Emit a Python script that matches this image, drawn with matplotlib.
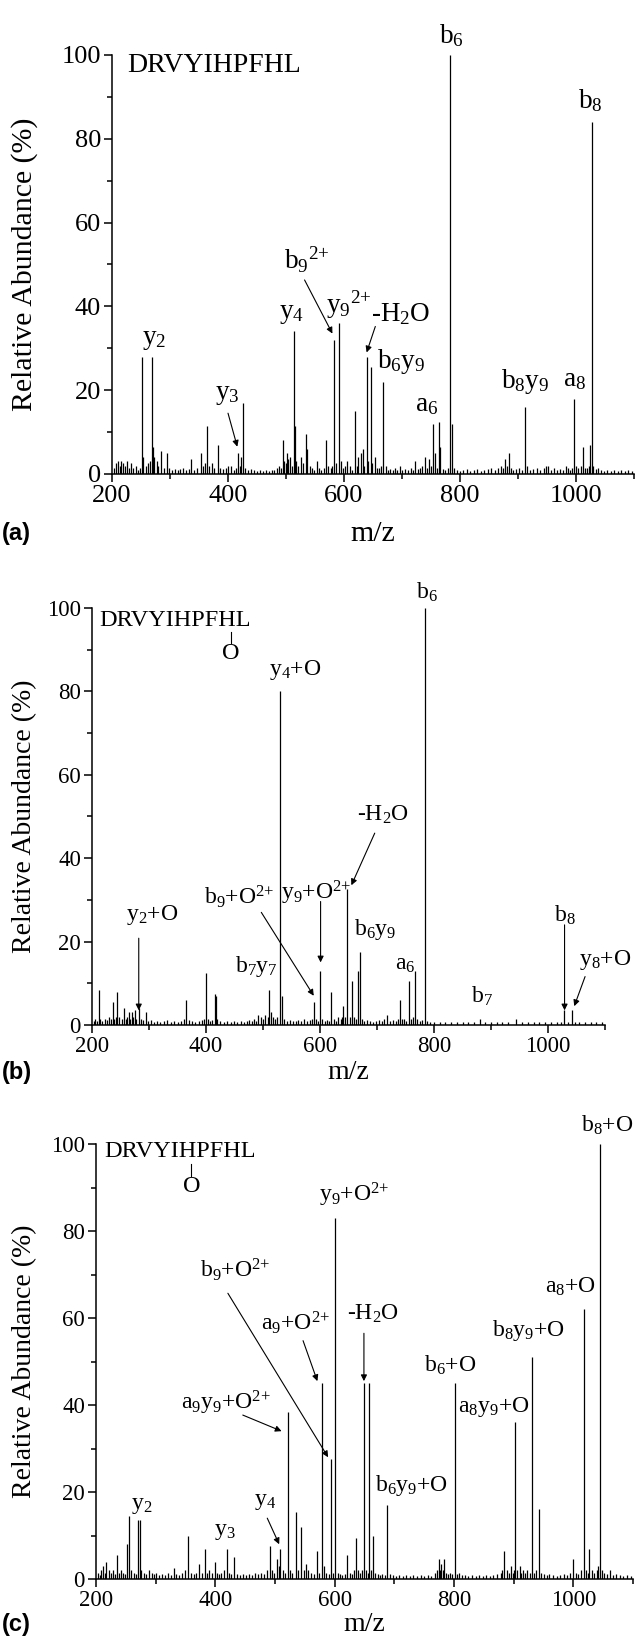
import numpy as np
import matplotlib.pyplot as plt
from matplotlib.ticker import MultipleLocator

plt.rcParams['font.family'] = ['Liberation Serif', 'DejaVu Serif']
plt.rcParams['mathtext.default'] = 'regular'

# ---- panel (a): DRVYIHPFHL
mz_a = [204, 207, 210, 213, 216, 219, 222, 226, 229, 233, 237, 241, 245, 248,
        251.6, 254, 258, 262, 266, 269.7, 271, 273, 277, 280, 285, 289, 294, 298,
        303, 308, 313, 318, 323, 328, 333, 337, 342, 347, 353, 357, 361, 364, 367,
        372, 376, 383, 387, 391, 396, 400, 405, 410, 414, 417.5, 420, 423, 426.5,
        430, 435, 440, 445, 450, 455, 460, 465, 470, 475, 480, 484, 488, 491,
        494, 497, 500, 502.5, 504, 506.7, 510, 513, 515, 518, 521, 525.5, 529, 534,
        537, 541, 545, 549, 553, 557, 561, 565, 569, 573, 577, 580, 583, 587, 591.7,
        595, 599, 602, 605.7, 610, 614, 619.6, 622, 625, 628.7, 632, 635, 639, 642,
        646, 649, 653, 657, 661, 664, 668, 672, 676, 680, 684, 688, 692, 696, 700,
        705, 710, 715, 719, 722, 727, 731, 735, 739.5, 743, 747, 750, 754, 757,
        761, 763, 766, 770, 775, 779, 783.4, 786, 790, 795, 800, 806, 812, 818,
        824, 830, 836, 842, 848, 854, 860, 866, 870, 874, 877.5, 881, 884.5, 888,
        892, 897, 902, 907, 912, 916, 920, 926, 932, 938, 944, 948, 952, 957, 962,
        967, 972, 977, 982, 986, 990, 993, 996, 1000, 1004, 1008, 1012, 1015,
        1019, 1022, 1025, 1027, 1030, 1034, 1038, 1043, 1048, 1054, 1060, 1066,
        1072, 1078, 1084, 1090, 1096]
int_a = [1.5, 2.5, 3, 2, 3.2, 2.5, 2, 3, 1.5, 2.5, 1.5, 2, 1, 1.5,
         28, 4, 2, 2.5, 3, 28, 6.5, 4, 3, 2, 5.5, 1.5, 5, 1.5,
         1, 1.2, 1, 1.2, 1.5, 1, 1.2, 3.5, 1, 1.5, 5, 2, 2.5, 11.5, 2,
         2.5, 1.5, 7, 1.5, 1.2, 1.5, 2, 1.8, 1, 1.5, 5, 2, 4, 17,
         1.5, 1, 1.2, 1, 0.8, 1, 0.8, 1, 0.8, 1, 1, 1.5, 2, 1.5,
         8, 3, 2.5, 5, 3.5, 4, 2, 34, 11.5, 3, 2, 4, 2.5, 9.5,
         6, 2, 1.5, 1, 3, 1.5, 1, 1.5, 8, 2, 1.5, 2, 32, 2.5, 36,
         3, 1.5, 2, 3, 2, 1, 15, 2, 4, 5, 6, 2, 28, 3,
         25.5, 2.5, 4, 1.5, 1.5, 2, 22, 2, 1, 1.2, 1, 1.5, 1, 2, 1,
         1.2, 1, 1.5, 1, 3, 1.2, 1.5, 2, 4, 1.5, 3.5, 2, 12, 5,
         1.5, 12.5, 6.5, 1.2, 1, 1.5, 100, 12, 1.5, 1, 0.8, 1, 1.2, 0.8,
         1, 1.2, 0.8, 1, 1.2, 1.5, 1, 1.5, 2, 1.5, 3.5, 2, 5, 1.5,
         1, 1.2, 1.5, 1, 16, 2, 1, 1.2, 1.5, 1, 1.5, 2, 2, 1, 1.5,
         1, 1.2, 1, 2, 1.5, 1, 1.5, 18, 2, 1.5, 2, 6.5, 1.5,
         1.5, 2, 7, 84, 2, 1.2, 1.5, 1, 0.8, 1, 0.8, 1,
         0.8, 1, 0.8, 1, 0.8]

# ---- panel (b): DRVYIHPFHL + O
mz_b = [203, 206, 209, 211.4, 214, 218, 222, 226, 230, 233, 236, 239, 242, 244.7,
        248, 252, 255.4, 259, 262, 264.6, 267, 269.6, 272, 275.3, 278, 282.4, 286,
        290, 294.5, 298, 303, 308, 314, 320, 326, 332, 338, 344, 350, 356, 361,
        365.5, 370, 375, 381, 387, 393, 396, 399.6, 403, 407, 411, 415, 417, 420,
        425, 431, 437, 443, 449, 455, 461, 467, 472, 476, 480, 484, 488, 492, 496,
        500, 504, 508, 511, 514, 517, 521, 525, 530, 533.8, 537, 542, 547, 552,
        557, 562, 567, 572, 577, 582, 586, 589, 593, 597, 600, 604, 608, 612, 616,
        619.7, 624, 628, 632, 636, 638, 641, 644, 648, 652, 656.7, 660, 663, 666.6,
        669.5, 673, 678, 683, 688, 693, 698, 703, 708, 713, 718, 723, 728, 733,
        736, 739.8, 743, 747, 751, 756, 760, 763, 766.8, 770, 775, 779, 784.5,
        788, 793, 800, 810, 820, 830, 840, 850, 860, 870, 880, 890, 900, 910, 920,
        930, 944, 955, 965, 975, 985, 995, 1005, 1015, 1022, 1028, 1035, 1042,
        1048, 1055, 1065, 1075, 1085, 1095]
int_b = [1, 1.5, 1, 8.5, 1.5, 1, 1.5, 1.2, 2, 1.5, 5.5, 1.5, 2, 8,
         2, 1.5, 4, 1.5, 2, 3, 1.5, 3, 2, 3.5, 1.5, 4, 1.5,
         1.2, 3, 1, 1.2, 0.8, 1, 0.8, 1, 1.2, 0.8, 1, 0.8, 1, 1.5,
         6, 1.2, 1, 0.8, 1, 1.2, 1.5, 12.5, 1.5, 1, 1.2, 7.5, 7, 1.5,
         1, 0.8, 1, 0.8, 1, 0.8, 1, 0.8, 1, 1.2, 1, 1.5, 1, 2.5, 2,
         1.5, 2.5, 2, 8.5, 3, 2, 1.5, 2, 80, 7, 1.5, 1, 1.2, 1,
         1, 1.2, 1, 1.5, 1, 1.2, 1.5, 5.5, 1.5, 1, 13, 1.5, 1, 1.2, 1,
         8, 1.5, 1, 2, 1.5, 2, 4.5, 2, 32.5, 2, 10.5, 2, 1.5, 13,
         17.5, 1.5, 1, 1.2, 1, 0.8, 1, 1.2, 1, 1.5, 2.5, 1, 1.2, 1,
         1.5, 6, 1.5, 1.5, 1, 10.5, 1.5, 2, 13, 1.5, 1, 1.2, 100,
         1, 0.8, 0.8, 0.6, 0.8, 0.6, 0.8, 0.6, 0.8, 0.6, 1.5, 0.6, 0.8, 0.6, 0.8,
         0.6, 1.5, 0.6, 0.8, 0.6, 0.8, 0.6, 0.8, 0.6, 0.8, 3.5, 0.8, 3.5,
         0.8, 0.6, 0.8, 0.6, 0.8, 0.6]

# ---- panel (c): DRVYIHPFHL + O
mz_c = [203, 206, 209, 212, 214.5, 217, 221, 225, 229, 232, 235, 238, 242, 246,
        249, 252, 256, 259, 263, 267, 270, 273, 276, 280, 284, 289, 293, 297, 301,
        306, 311, 316, 321, 326, 330, 334, 339, 344, 349, 355, 359, 364, 368, 372,
        377, 382, 386, 390, 395, 399, 402, 406, 410, 414, 419, 423, 427, 431,
        436, 441, 446, 451, 456, 461, 466, 471, 476, 481, 486, 491, 495, 499,
        503, 506, 509, 513, 517, 521, 525, 529, 535, 539, 544, 548, 552, 556, 561,
        566, 570, 574, 579, 582, 586, 590, 593, 597, 601, 605, 609, 613, 617, 621,
        625, 629, 632, 635, 639, 643, 646, 649, 652, 655, 658, 661, 665, 668, 672,
        676, 680, 684, 688, 692, 697, 702, 708, 714, 720, 726, 732, 738, 744, 750,
        756, 762, 768, 772, 775, 777, 779, 781, 784, 786, 790, 794, 797, 801, 805,
        809, 813, 818, 824, 830, 836, 842, 848, 854, 860, 866, 872, 878, 881, 884,
        888, 892, 895, 898, 901, 903, 906, 910, 913, 915, 919, 923, 927, 930, 934,
        938, 942, 946, 950, 955, 960, 966, 972, 978, 984, 990, 995, 1000, 1004,
        1008, 1012, 1017, 1021, 1024, 1027, 1031, 1035, 1039, 1042, 1044, 1048,
        1052, 1056, 1062, 1066, 1072, 1078, 1084, 1090, 1096]
int_c = [1.5, 1, 2, 3, 1.5, 4, 2, 1.5, 2, 1.2, 5.5, 1.5, 2, 1.5,
         1.2, 8, 14.5, 2, 1.5, 1.2, 13.5, 13.5, 2, 1.5, 1.2, 2, 1.5, 1.2, 1.5,
         1, 1.2, 1, 1.5, 1, 2.5, 1.2, 1, 1.5, 2, 10, 1.5, 1.2, 1.5, 3.5,
         1.5, 7, 1.5, 2, 1.5, 4, 1.5, 1.2, 1.5, 2, 7, 1.5, 1.2, 5,
         1.2, 1, 1.2, 1, 1.2, 1, 1.5, 1.2, 1.5, 1.2, 2, 7.5, 2, 1.5,
         4.5, 3, 7, 2, 1.5, 38.5, 2, 1.5, 15.5, 2, 12, 2, 3.5, 2, 1.5,
         1.2, 6.5, 1.5, 45, 3, 1.5, 1.2, 27.5, 1.5, 83, 1.5, 1.2, 1, 1.2, 5.5,
         1.5, 1.2, 2, 9.5, 2, 1.5, 2, 45, 2, 1.5, 45, 2, 10, 1.5, 1.2,
         1, 1.2, 1, 17, 1.2, 1, 0.8, 1, 0.8, 1, 0.8, 1, 0.8, 1, 0.8,
         1, 0.8, 1.5, 2, 4.5, 2, 3.5, 2, 4.5, 1.5, 1.2, 1.5, 1.2, 45, 1.2,
         1.5, 1, 1, 0.8, 1, 0.8, 1, 0.8, 1, 0.8, 1, 1.2, 1.5, 2, 6.5,
         2, 1.5, 3, 1.5, 2, 36, 2, 3, 1.5, 2, 1.5, 2, 1.5, 51, 1.5,
         2, 16, 1.5, 1.2, 1, 1.2, 1, 0.8, 1, 1.2, 1, 1.5, 4.5, 1.5,
         1.2, 2, 62, 2, 1.5, 7, 2, 1.5, 2, 3, 100, 2,
         1.5, 1.2, 2, 1, 1.2, 1, 0.8, 1, 0.8]

# ---- annotations: (text, m/z, abundance)
labels_a = [('b$_6$', 785, 104.5), ('b$_8$', 1025, 89), ('b$_9$$^{2{+}}$', 536, 51),
            ('y$_9$$^{2{+}}$', 608, 40.3), ('-H$_2$O', 697, 38.2), ('y$_4$', 509, 38.4),
            ('y$_2$', 273, 32), ('y$_3$', 398, 18.9), ('b$_6$y$_9$', 698, 26.8),
            ('a$_6$', 743, 16.5), ('b$_8$y$_9$', 912, 22), ('a$_8$', 997, 22.4)]
arrows_a = [(532, 46.3, 580, 33.5), (654, 35.2, 639, 29), (400, 14.5, 416, 6.5)]

labels_b = [('b$_6$', 788, 103.8), ('y$_4$+O', 557, 85), ('-H$_2$O', 710, 50.4),
            ('b$_9$+O$^{2{+}}$', 458, 30.8), ('y$_9$+O$^{2{+}}$', 593, 31.6),
            ('y$_2$+O', 306, 26.4), ('b$_7$y$_7$', 488, 14), ('b$_6$y$_9$', 697, 22.8),
            ('a$_6$', 749, 14.4), ('b$_7$', 884, 6.8), ('b$_8$', 1030, 26.4),
            ('y$_8$+O', 1100, 15.6)]
arrows_b = [(696, 46, 655, 33.5), (497, 27, 589, 7), (601, 29.6, 601, 15),
            (282, 20.8, 282, 3.5), (1029, 24, 1029, 3.5), (1065, 11.6, 1046, 4.5)]

labels_c = [('b$_8$+O', 1056, 104.4), ('y$_9$+O$^{2{+}}$', 633, 88.3),
            ('b$_9$+O$^{2{+}}$', 433, 71), ('a$_9$+O$^{2{+}}$', 535, 59), ('-H$_2$O', 664, 61),
            ('a$_8$+O', 995, 67.2), ('b$_8$y$_9$+O', 925, 57.2), ('b$_6$+O', 793, 49.2),
            ('a$_8$y$_9$+O', 866, 39.6), ('a$_9$y$_9$+O$^{2{+}}$', 417, 40.4),
            ('b$_6$y$_9$+O', 728, 21.6), ('y$_2$', 277, 17), ('y$_3$', 416, 10.9),
            ('y$_4$', 484, 17.8)]
arrows_c = [(421, 65.7, 589, 28), (547, 54.8, 571, 45.5), (649, 56.5, 649, 45.5),
            (446, 37.7, 511, 34), (487, 14, 507, 8)]

# peptide text: (start m/z, abundance, oxidised residue m/z)
pep_a = (226, 97.6, None)
pep_b = (213, 97, 444)
pep_c = (214, 98.2, 360)


def draw(ax, mz, inten, labels, arrows, pep, fs):
    ax.vlines(mz, 0, inten, color='k', lw=0.9)
    ax.set_xlim(200, 1100)
    ax.set_ylim(0, 100)
    for s in ['top', 'right']:
        ax.spines[s].set_visible(False)
    for s in ['left', 'bottom']:
        ax.spines[s].set_linewidth(1.1)
    ax.xaxis.set_major_locator(MultipleLocator(200))
    ax.xaxis.set_minor_locator(MultipleLocator(100))
    ax.yaxis.set_major_locator(MultipleLocator(20))
    ax.yaxis.set_minor_locator(MultipleLocator(10))
    ax.tick_params(which='major', length=6, width=1.1, labelsize=fs, pad=2)
    ax.tick_params(which='minor', length=3.5, width=1.1)
    for t, x, y in labels:
        ax.text(x, y, t, fontsize=fs + 0.5, ha='center', va='center', clip_on=False)
    for x0, y0, x1, y1 in arrows:
        ax.annotate('', xy=(x1, y1), xytext=(x0, y0),
                    arrowprops=dict(arrowstyle='-|>', color='k', lw=0.8,
                                    mutation_scale=9, shrinkA=0, shrinkB=0))
    x, y, ox = pep
    ax.text(x, y, 'DRVYIHPFHL', fontsize=fs + 1, ha='left', va='center')
    if ox is not None:
        ax.plot([ox, ox], [y - 2.8, y - 5.5], color='k', lw=0.8)
        ax.text(ox, y - 8, 'O', fontsize=fs + 1, ha='center', va='center')


fig = plt.figure(figsize=(6.35, 16.36), dpi=100)
ax_a = fig.add_axes([0.1764, 0.7103, 0.822, 0.2561])
ax_b = fig.add_axes([0.1449, 0.3735, 0.8079, 0.2549])
ax_c = fig.add_axes([0.1512, 0.0348, 0.8457, 0.2659])

draw(ax_a, mz_a, int_a, labels_a, arrows_a, pep_a, 19)
draw(ax_b, mz_b, int_b, labels_b, arrows_b, pep_b, 16.5)
draw(ax_c, mz_c, int_c, labels_c, arrows_c, pep_c, 16.5)

for ax, ylab_y, xlab_y, tag in [(ax_a, 0.8383, 0.6736, '(a)'),
                                (ax_b, 0.5009, 0.3447, '(b)'),
                                (ax_c, 0.1678, 0.0073, '(c)')]:
    pos = ax.get_position()
    fs = 21.5 if tag == '(a)' else 20
    fig.text(0.039, ylab_y, 'Relative Abundance (%)', rotation=90,
             ha='center', va='center', fontsize=fs)
    fig.text((pos.x0 + pos.x1) / 2, xlab_y, 'm/z', ha='center', va='center',
             fontsize=fs)
    fig.text(0.003, xlab_y, tag, ha='left', va='center', fontsize=17,
             family='Liberation Sans', weight='bold')

fig.savefig('out.png', dpi=100)
